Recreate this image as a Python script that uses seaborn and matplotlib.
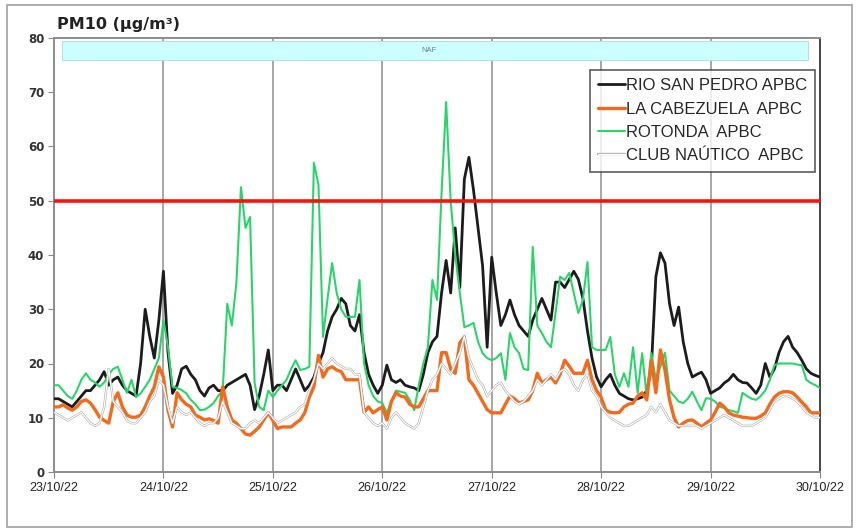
import numpy as np
import pandas as pd
import seaborn as sns
import matplotlib.pyplot as plt
import matplotlib.dates as mdates
import matplotlib.patheffects as pe
from matplotlib.lines import Line2D
from matplotlib.patches import Rectangle

# hourly values 23/10/22 00h .. 30/10/22 00h (169 points)
rio_san_pedro = [
    13.5, 13.5, 13, 12.5, 12, 13, 14, 15, 15, 16, 17, 18.5, 16, 17, 17.5, 16, 15, 14.5, 14, 20, 30, 25, 21, 28,
    37, 22, 14.5, 16, 19, 19.5, 18, 17, 15, 14, 15.5, 16, 15, 15, 16, 16.5, 17, 17.5, 18, 16, 11.5, 14, 18, 22.5,
    15, 16, 16, 15, 17, 19, 17, 15, 16, 17.5, 20, 22, 26, 28.6, 30, 32, 31, 27, 26, 29, 22, 18, 16, 14.5,
    16, 19.7, 17, 16.5, 17, 16, 15.7, 15.5, 15, 18, 22, 24, 25, 33, 39, 33, 45, 34, 54, 58, 52, 45, 38, 23,
    39.6, 33, 27, 29, 31.7, 29, 27, 26, 25, 28, 30, 32, 30, 28, 35, 35, 34, 35.5, 37, 35.5, 32, 26, 21, 17.5,
    15.7, 17, 18, 16, 14.5, 14, 13.5, 13.3, 13.5, 13.8, 15, 19, 36, 40.4, 38.5, 31, 27, 30.4, 24, 20, 17.5, 18, 18.4, 17,
    14.5, 15, 15.5, 16.4, 17, 18, 17, 16.5, 16.4, 15.5, 14.5, 16, 20, 17.5, 19, 22, 24, 25, 23, 22, 20.6, 19, 18.2, 17.8,
    17.5]
la_cabezuela = [
    12, 12, 12.4, 11.8, 11.4, 12, 13, 13.3, 12.7, 11.5, 10.1, 9.5, 9, 13, 14.6, 12, 10.5, 10.1, 10.1, 10.5, 12, 14, 15.7, 19.4,
    17.5, 11.4, 8.3, 14.6, 13.3, 12.5, 12, 10.5, 10.1, 9.6, 9.8, 9.5, 9, 15.7, 12, 9.6, 9, 8, 7, 6.8, 7.5, 8.3, 9.6, 10.9,
    9.5, 8, 8.3, 8.3, 8.3, 9, 9.6, 10.9, 13.8, 15.7, 21.5, 17.5, 19, 19.4, 18.8, 18.5, 17, 17, 17, 17, 11, 12, 10.9, 11.5,
    12, 9.6, 13, 14.6, 14, 13.8, 12.5, 12, 12, 13.5, 15, 15, 15, 22, 22, 19, 18.2, 23.8, 24.9, 17, 16, 14.5, 13, 11.5,
    10.9, 10.9, 10.9, 12.5, 14, 13.5, 12.7, 13, 13.3, 15, 18.2, 16.4, 17, 17.5, 16.4, 18, 20.6, 19.5, 18.2, 18.2, 18.2, 20.6, 17, 15,
    13.8, 11.4, 11, 10.9, 11, 12, 12.5, 12.7, 14, 14.6, 13.3, 20.6, 14.6, 22.5, 18.8, 13.3, 10, 8.3, 9, 9.5, 9.6, 9, 8.3, 9,
    9.6, 11, 12.7, 12, 10.9, 10.5, 10.3, 10.1, 10, 9.9, 9.9, 10.3, 10.9, 12.5, 13.8, 14.5, 14.8, 14.8, 14.6, 13.8, 12.9, 12, 10.9, 10.9,
    10.9]
rotonda = [
    16, 16, 15, 14, 13.5, 15, 17, 18.2, 17, 16.5, 15.7, 16.5, 18, 19, 19.4, 17, 14.6, 17, 13.8, 14.5, 15.7, 17, 19, 21,
    28, 23, 15.7, 15.5, 15.1, 14.5, 13.3, 12.5, 11.4, 11.5, 12, 12.7, 14, 15, 31, 27, 34.8, 52.5, 45, 47, 16.4, 12, 11.4, 15,
    13.8, 15, 16, 17, 19, 20.6, 18.8, 19, 19.4, 57, 53, 24.9, 32, 38.5, 33, 30, 28.6, 28.6, 28.6, 35.4, 20, 16, 14, 13,
    12.7, 10.9, 13, 15, 14.8, 14.6, 13.3, 11.4, 16, 20, 23, 35.4, 31.7, 51.4, 68.2, 50, 40, 33, 26.7, 27, 27.5, 24, 21.9, 21,
    20.6, 21, 21.9, 17, 25.6, 23, 21.9, 19, 18.8, 41.5, 27, 25.6, 24, 23, 29.3, 36, 35.4, 36.7, 33, 29.3, 31.7, 38.7, 23, 22.5,
    22.5, 22.5, 24.9, 18, 15.7, 18.2, 15.7, 23, 14.6, 21.9, 13.8, 21.9, 17, 19.4, 22, 15, 14, 13, 12.7, 13.5, 14.8, 13, 11.4, 13.6,
    13.5, 13, 12, 11.8, 11.4, 11.2, 10.9, 14.6, 14, 13.5, 13.3, 14, 15, 17, 19.7, 20, 20, 20, 20, 19.8, 19.7, 17, 16.4, 16,
    15.5]
club_nautico = [
    11, 10.5, 10, 9.5, 10, 10.5, 11, 10, 9, 8.5, 9, 12, 19, 13, 12, 11, 9.5, 9, 9, 10, 11, 13, 14, 17,
    16, 12, 9, 12, 11, 10.5, 11, 10, 9, 8.5, 9, 9, 10, 13, 11, 9, 8.5, 8, 8, 9, 9.5, 9, 10, 11,
    10, 9, 9.5, 10, 10.5, 11, 12, 12.5, 15, 17, 20, 19, 20, 21, 20, 19.5, 19, 19, 18, 18, 11, 10, 9, 8.5,
    9, 8, 10, 11, 10, 9, 8.5, 8, 9, 12, 15, 17, 18, 20, 19, 18, 20, 22, 25, 21, 19, 17, 16, 14,
    15, 16, 16.5, 15, 14, 13, 12.5, 13, 14, 15, 17, 16, 17, 18, 17, 18.5, 19, 18, 16, 15, 17, 18, 15, 14,
    12, 11, 10, 9.5, 9, 8.5, 8.5, 9, 9.5, 10, 10.5, 12, 11, 12.5, 11, 9.5, 9, 8.5, 8.5, 8.5, 8.5, 8.5, 8, 8.5,
    9, 9.5, 10, 10.5, 10, 9.5, 9, 8.5, 8.5, 8.5, 9, 9.5, 10, 11.5, 13, 13.5, 14, 14, 13.5, 13, 12, 11, 10.5, 10,
    10]

station_names = ['RIO SAN PEDRO APBC', 'LA CABEZUELA  APBC', 'ROTONDA  APBC', 'CLUB NAÚTICO  APBC']
limit_value = 50
band_label = 'NAF'

times = pd.date_range('2022-10-23 00:00', periods=len(rio_san_pedro), freq='h')
df = pd.DataFrame({'time': times, station_names[0]: rio_san_pedro, station_names[1]: la_cabezuela,
                   station_names[2]: rotonda, station_names[3]: club_nautico})

sns.set_style('white')
plt.rcParams['font.family'] = ['Liberation Sans', 'DejaVu Sans']

fig = plt.figure(figsize=(8.59, 5.31), dpi=100)
ax = fig.add_axes([54/859, 1-472/531, (820-54)/859, (472-38)/531])

t0, t1 = times[0], times[-1]

# vertical day gridlines
for d in pd.date_range(t0, t1, freq='D')[1:-1]:
    ax.axvline(d, color='#a6a6a6', lw=1.4, zorder=1)

sns.lineplot(data=df, x='time', y=station_names[0], ax=ax, color='#1c1c1c', lw=2.0, zorder=3)
sns.lineplot(data=df, x='time', y=station_names[2], ax=ax, color='#2bd46a', lw=1.5, zorder=4)
sns.lineplot(data=df, x='time', y=station_names[1], ax=ax, color='#f26a1b', lw=2.4, zorder=5)
sns.lineplot(data=df, x='time', y=station_names[3], ax=ax, color='white', lw=0.9, zorder=6)
ax.lines[-1].set_path_effects([pe.Stroke(linewidth=1.7, foreground='#a8a8a8'), pe.Normal()])

ax.axhline(limit_value, color='#ff1010', lw=2.6, zorder=7)

# NAF band
band_left = t0 + pd.Timedelta(hours=1.7)
band_right = t1 - pd.Timedelta(hours=2.6)
ax.add_patch(Rectangle((mdates.date2num(band_left), 75.9), mdates.date2num(band_right) - mdates.date2num(band_left),
                       3.6, facecolor='#ccffff', edgecolor='#b8dede', lw=0.8, zorder=2))
ax.text(mdates.date2num(t0) + (mdates.date2num(t1) - mdates.date2num(t0)) * 0.49, 77.7, band_label,
        fontsize=5.5, color='#7a7a7a', ha='center', va='center', zorder=8)

ax.set_xlim(t0, t1)
ax.set_ylim(0, 80)
ax.set_yticks(range(0, 81, 10))
ax.xaxis.set_major_locator(mdates.DayLocator())
ax.xaxis.set_major_formatter(mdates.DateFormatter('%d/%m/%y'))
ax.set_xlabel('')
ax.set_ylabel('')
for lab in ax.get_xticklabels():
    lab.set_fontsize(9)
    lab.set_color('#222222')
for lab in ax.get_yticklabels():
    lab.set_fontsize(8.5)
    lab.set_fontweight('bold')
    lab.set_color('#333333')
    lab.set_family('DejaVu Sans')
ax.tick_params(axis='both', length=4, color='#888888', direction='out', pad=3, left=True, bottom=True)

for side in ['left', 'bottom', 'top']:
    ax.spines[side].set_color('#8c8c8c')
    ax.spines[side].set_linewidth(1.4)
ax.spines['right'].set_color('#444444')
ax.spines['right'].set_linewidth(1.4)

fig.text(57/859, 1-25/531, 'PM10 (µg/m³)', fontsize=11.5, fontweight='bold', family='DejaVu Sans',
         color='#222222', va='center', ha='left')

handles = [Line2D([], [], color='#1c1c1c', lw=2.0),
           Line2D([], [], color='#f26a1b', lw=2.4),
           Line2D([], [], color='#2bd46a', lw=1.5),
           Line2D([], [], color='white', lw=0.9,
                  path_effects=[pe.Stroke(linewidth=1.7, foreground='#b0b0b0'), pe.Normal()])]
leg = ax.legend(handles, station_names, loc='upper right', bbox_to_anchor=(815/859, 1-70/531),
                bbox_transform=fig.transFigure, fontsize=12, frameon=True, fancybox=False,
                handlelength=1.6, handletextpad=0.05, borderpad=0.5, labelspacing=0.5, borderaxespad=0)
leg.get_frame().set_edgecolor('#333333')
leg.get_frame().set_linewidth(1.2)
leg.set_zorder(10)

# outer frame
fig.patches.append(Rectangle((7/859, 4/531), 845/859, 522/531, transform=fig.transFigure,
                             fill=False, edgecolor='#a0a0a0', lw=1.2))

fig.savefig('out.png', dpi=100)
